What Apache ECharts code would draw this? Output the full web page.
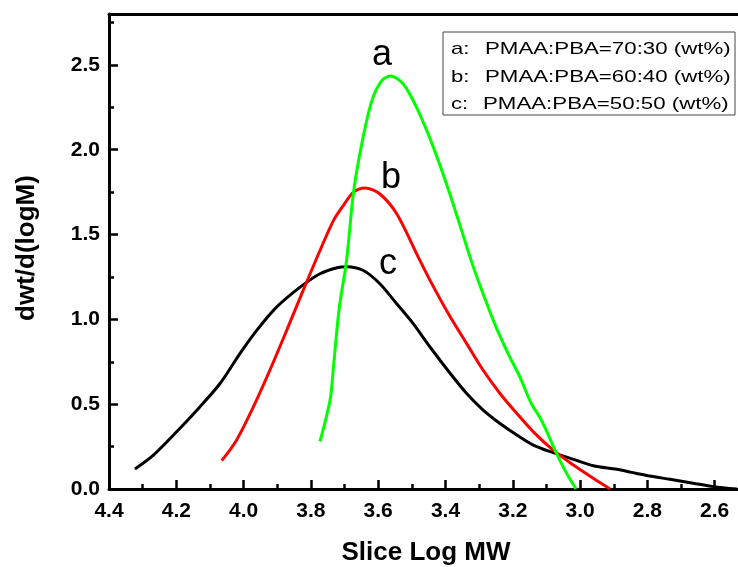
<!DOCTYPE html>
<html>
<head>
<meta charset="utf-8">
<script src="https://cdn.jsdelivr.net/npm/echarts@6/dist/echarts.min.js"></script>
<style>
  html, body { margin: 0; padding: 0; background: #fff; }
  #chart { width: 738px; height: 567px; }
</style>
</head>
<body>
<div id="chart"></div>
<script>
// ---- data ----
const xTickMin = 2.4, xTickMax = 4.4, xTickStep = 0.2;
const yTickMin = 0, yTickMax = 2.8, yTickStep = 0.5;

const cX = [4.323,4.268,4.199,4.130,4.070,4.011,3.961,3.902,3.832,3.773,3.719,3.694,3.644,3.595,3.545,3.496,3.446,3.387,3.337,3.288,3.238,3.188,3.139,3.080,3.020,2.961,2.891,2.847,2.802,2.733,2.664,2.604,2.534];
const cY = [0.118,0.200,0.337,0.484,0.622,0.798,0.935,1.072,1.190,1.269,1.306,1.310,1.288,1.210,1.092,0.975,0.837,0.684,0.563,0.465,0.386,0.318,0.259,0.214,0.175,0.137,0.116,0.098,0.080,0.057,0.034,0.014,0.0];

const bX = [4.065,4.021,3.971,3.922,3.872,3.823,3.773,3.733,3.704,3.674,3.639,3.595,3.545,3.481,3.446,3.387,3.337,3.288,3.238,3.188,3.139,3.080,3.020,2.961,2.911];
const bY = [0.167,0.288,0.484,0.700,0.935,1.171,1.406,1.582,1.670,1.749,1.775,1.739,1.622,1.367,1.230,1.018,0.857,0.700,0.563,0.445,0.337,0.229,0.141,0.063,0.0];

const aX = [3.773,3.743,3.733,3.716,3.694,3.674,3.649,3.619,3.590,3.563,3.525,3.486,3.436,3.387,3.327,3.303,3.254,3.214,3.179,3.145,3.115,3.070,3.040,3.012];
const aY = [0.280,0.524,0.720,1.063,1.347,1.739,2.033,2.288,2.406,2.435,2.386,2.249,2.014,1.739,1.367,1.229,0.975,0.798,0.661,0.504,0.406,0.210,0.092,0.0];

const seriesNames = ['c', 'b', 'a'];
const legendKeys = ['a:', 'b:', 'c:'];
const legendTexts = ['PMAA:PBA=70:30 (wt%)', 'PMAA:PBA=60:40 (wt%)', 'PMAA:PBA=50:50 (wt%)'];
const xName = 'Slice Log MW';
const yName = 'dwt/d(logM)';

const zip = (xs, ys) => xs.map((x, i) => [x, ys[i]]);
const FONT = '"Liberation Sans", Arial, sans-serif';

const chart = echarts.init(document.getElementById('chart'), null, { renderer: 'canvas' });

const axisCommon = {
  axisLine: { show: true, onZero: false, lineStyle: { color: '#000', width: 3 } },
  splitLine: { show: false },
  axisTick: { show: true, inside: true, length: 9, lineStyle: { color: '#000', width: 2.5 } },
  minorTick: { show: true, splitNumber: 2, length: 5, lineStyle: { color: '#000', width: 2.5 } },
  axisLabel: { color: '#000', fontSize: 21, fontWeight: 'bold', fontFamily: FONT }
};

const lineSeries = (name, data, color) => ({
  name, type: 'line', data, smooth: 0.3, showSymbol: false, symbol: 'none',
  lineStyle: { color, width: 3 }, itemStyle: { color }, clip: true, animation: false
});

const legendGraphics = [
  { type: 'rect', shape: { x: 443, y: 32, width: 292, height: 83 },
    style: { fill: '#fff', stroke: '#444', lineWidth: 1 }, z: 100 }
];
const rowY = [49, 77, 104];
const textX = [485, 485, 483];
legendKeys.forEach((k, i) => {
  legendGraphics.push({ type: 'text', x: 451, y: rowY[i], scaleX: 1.3, z: 101,
    style: { text: k, font: '17px ' + FONT, fill: '#000', textAlign: 'left', textVerticalAlign: 'middle', align: 'left', verticalAlign: 'middle' } });
  legendGraphics.push({ type: 'text', x: textX[i], y: rowY[i], scaleX: 1.31, z: 101,
    style: { text: legendTexts[i], font: '17px ' + FONT, fill: '#000', textAlign: 'left', textVerticalAlign: 'middle', align: 'left', verticalAlign: 'middle' } });
});

const curveLabels = [
  { t: 'a', x: 382, y: 55 },
  { t: 'b', x: 391, y: 178 },
  { t: 'c', x: 388, y: 264 }
];

chart.setOption({
  animation: false,
  backgroundColor: '#fff',
  grid: { left: 109, top: 14, width: 673, bottom: 78, containLabel: false, outerBoundsMode: 'none' },
  xAxis: [
    Object.assign({}, axisCommon, {
      type: 'value', inverse: true, min: xTickMin, max: xTickMax, interval: xTickStep, position: 'bottom',
      axisLabel: Object.assign({}, axisCommon.axisLabel, { margin: 12, formatter: v => v.toFixed(1) })
    }),
    {
      type: 'value', inverse: true, min: xTickMin, max: xTickMax, interval: xTickStep, position: 'top',
      axisLine: { show: true, onZero: false, lineStyle: { color: '#000', width: 3 } },
      axisTick: { show: false }, axisLabel: { show: false }, splitLine: { show: false }
    }
  ],
  yAxis: Object.assign({}, axisCommon, {
    type: 'value', min: yTickMin, max: yTickMax, interval: yTickStep,
    axisLabel: Object.assign({}, axisCommon.axisLabel, { margin: 9,
      formatter: v => (Math.abs(v - yTickMax) < 1e-9 ? '' : v.toFixed(1)) })
  }),
  series: [
    lineSeries(seriesNames[0], zip(cX, cY), '#000000'),
    lineSeries(seriesNames[1], zip(bX, bY), '#ff0000'),
    lineSeries(seriesNames[2], zip(aX, aY), '#00ff00')
  ],
  graphic: legendGraphics.concat(
    curveLabels.map(l => ({ type: 'text', x: l.x, y: l.y, z: 50,
      style: { text: l.t, font: '36px ' + FONT, fill: '#000', textAlign: 'center', textVerticalAlign: 'middle', align: 'center', verticalAlign: 'middle' } })),
    [
      { type: 'text', x: 426, y: 553, z: 50,
        style: { text: xName, font: 'bold 26px ' + FONT, fill: '#000', textAlign: 'center', textVerticalAlign: 'middle', align: 'center', verticalAlign: 'middle' } },
      { type: 'text', x: 27, y: 248, rotation: Math.PI / 2, z: 50,
        style: { text: yName, font: 'bold 26px ' + FONT, fill: '#000', textAlign: 'center', textVerticalAlign: 'middle', align: 'center', verticalAlign: 'middle' } }
    ]
  )
});
</script>
</body>
</html>
